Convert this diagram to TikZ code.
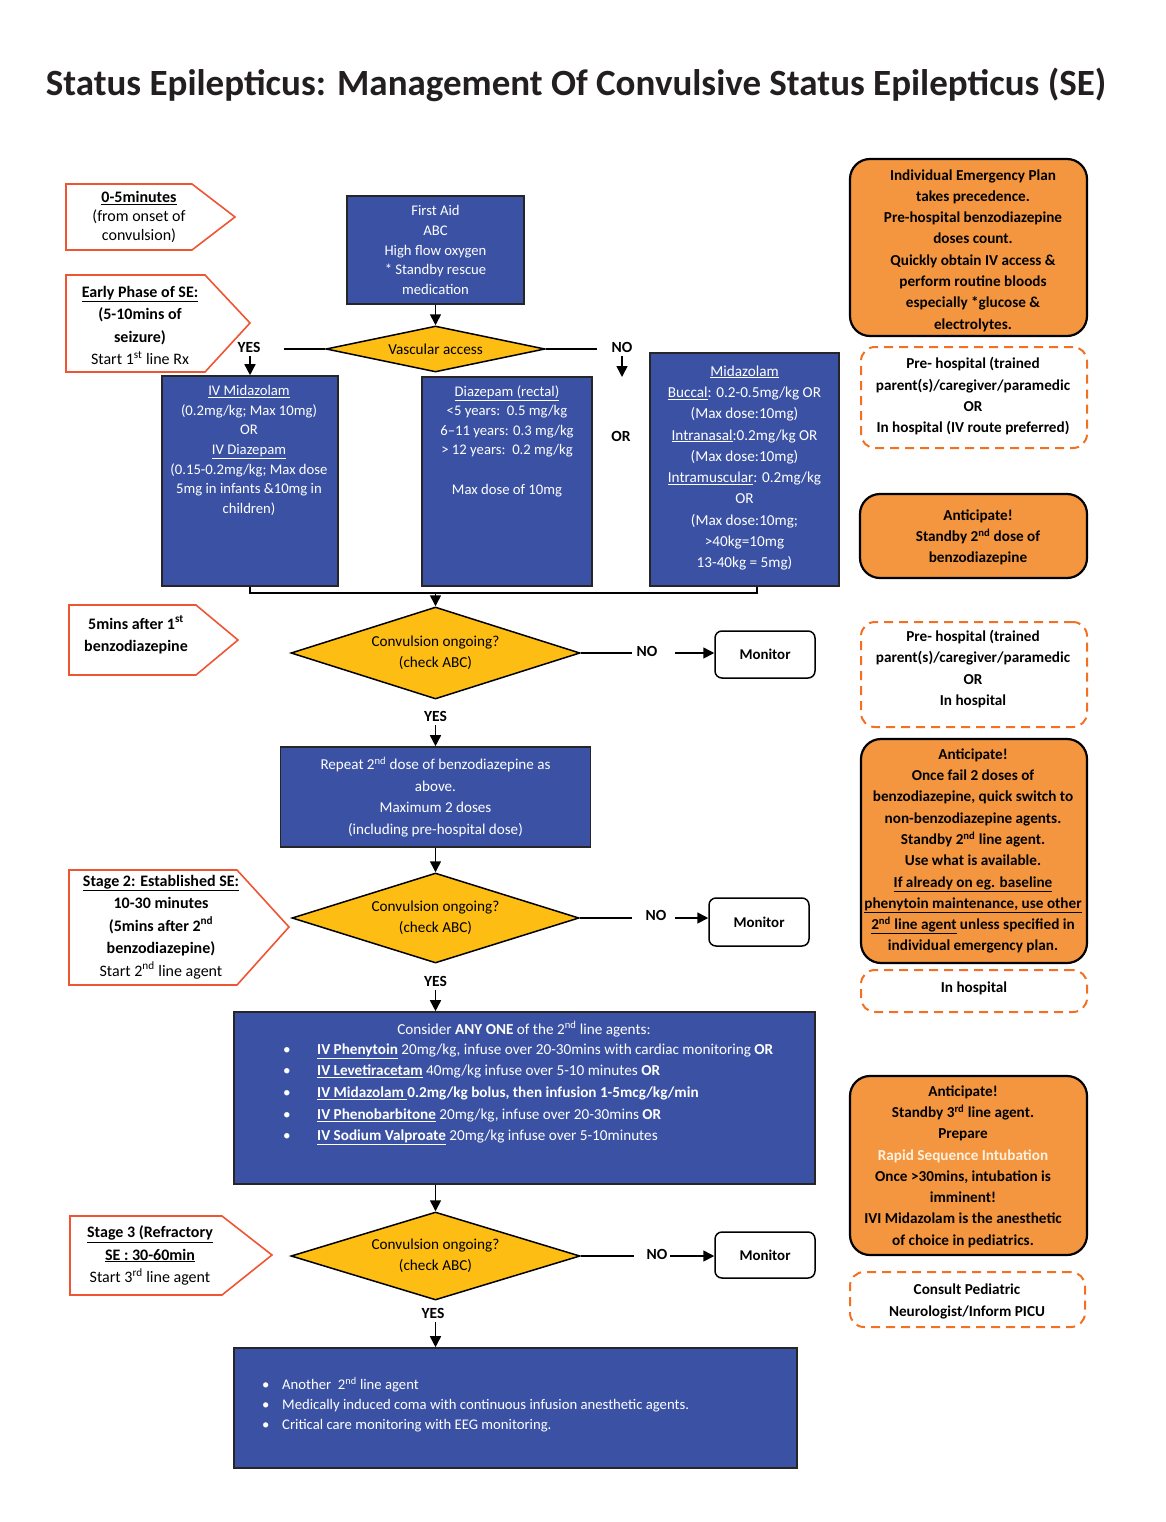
\documentclass[tikz,border=0pt]{standalone}
\usepackage{fontspec}
\setmainfont{Carlito}
\usetikzlibrary{shapes.geometric,arrows.meta}
\definecolor{blueF}{HTML}{3B52A4}
\definecolor{orangeF}{HTML}{F4963F}
\definecolor{yellowD}{HTML}{FDBD13}
\definecolor{pentR}{HTML}{EF5533}
\definecolor{dashO}{HTML}{F37021}
\definecolor{lightT}{HTML}{FFF1DE}
\definecolor{titleC}{HTML}{231F20}
\newcommand\ftA{\fontsize{14.7}{19.6}\selectfont}
\newcommand\ftB{\fontsize{15.2}{21.3}\selectfont}
\newcommand\ftC{\fontsize{16}{22.4}\selectfont}
\newcommand\ftD{\fontsize{15.1}{21.7}\selectfont}
\newcommand\ftE{\fontsize{15.2}{21}\selectfont}
\begin{document}
\begin{tikzpicture}[x=1pt,y=-1pt,
  bluebox/.style={draw=black!85, line width=1.6pt, fill=blueF, inner sep=0pt, text=white, align=center},
  wtxt/.style={text=white, align=center, inner sep=0pt},
  btxt/.style={text=black, align=center, inner sep=0pt, font=\bfseries\ftC},
  dia/.style={diamond, draw=black, line width=1.5pt, fill=yellowD, inner sep=0pt, align=center, font=\ftE},
  orbox/.style={draw=black, line width=2.2pt, fill=orangeF, rounded corners=20pt, inner sep=0pt},
  dbox/.style={draw=dashO, line width=2pt, dash pattern=on 9pt off 6pt, rounded corners=14pt, inner sep=0pt},
  pent/.style={draw=pentR, line width=1.6pt, fill=white},
  mon/.style={draw=black, line width=1.5pt, rounded corners=7pt, fill=white, minimum width=100pt, font=\bfseries\fontsize{14.9}{17}\selectfont},
  ln/.style={line width=1.6pt},
  arr/.style={line width=1.6pt, -{Triangle[length=11pt,width=11pt]}},
  lbl/.style={inner sep=0pt, font=\bfseries\fontsize{15.5}{17}\selectfont},
  bl/.style={anchor=west, inner sep=0pt, text=white, text height=10.5pt, text depth=3.3pt, font=\fontsize{15.2}{17}\selectfont},
  bl2/.style={bl, font=\fontsize{14.7}{17}\selectfont}
]
\useasboundingbox (0,0) rectangle (1166,1522);

% title
\node[inner sep=0pt, text=titleC, font=\bfseries\fontsize{37}{42}\selectfont] (title) at (576,85) {Status Epilepticus: Management Of Convulsive Status Epilepticus (SE)};

% stage pentagons
\draw[pent] (66,184) -- (192,184) -- (235,217) -- (192,250) -- (66,250) -- cycle;
\node[btxt, font=\fontsize{16}{19}\selectfont] (p1) at (139,217) {\textbf{\underline{0-5minutes}}\\(from onset of\\convulsion)};
\draw[pent] (66,275) -- (205,275) -- (250,323) -- (205,372) -- (66,372) -- cycle;
\node[btxt] (p2) at (140,325.5) {\underline{Early Phase of SE:}\\(5-10mins of\\seizure)\\\mdseries Start 1\textsuperscript{st} line Rx};
\draw[pent] (69,605) -- (196,605) -- (238,640) -- (196,675) -- (69,675) -- cycle;
\node[btxt] (p3) at (136,635) {5mins after 1\textsuperscript{st}\\benzodiazepine};
\draw[pent] (69,870) -- (237,870) -- (289,927) -- (237,985) -- (69,985) -- cycle;
\node[btxt] (p4) at (161,927) {\underline{Stage 2: Established SE:}\\10-30 minutes\\(5mins after 2\textsuperscript{nd}\\benzodiazepine)\\\mdseries Start 2\textsuperscript{nd} line agent};
\draw[pent] (70,1216) -- (222,1216) -- (272,1255) -- (222,1295) -- (70,1295) -- cycle;
\node[btxt] (p5) at (150,1255.5) {\underline{Stage 3 (Refractory}\\\underline{SE : 30-60min}\\\mdseries Start 3\textsuperscript{rd} line agent};

% main column
\node[bluebox, font=\ftA, minimum width=177pt, minimum height=108pt] (fa) at (435.5,250) {First Aid\\ABC\\High flow oxygen\\* Standby rescue\\medication};
\node[dia, minimum width=219pt, minimum height=46pt, aspect=4.7] (va) at (435.5,349) {Vascular access};

\node[bluebox, minimum width=176pt, minimum height=210pt] (ivm) at (250,481) {};
\node[wtxt, font=\ftA] (ivmt) at (249,450.5) {\underline{IV Midazolam}\\(0.2mg/kg; Max 10mg)\\OR\\\underline{IV Diazepam}\\(0.15-0.2mg/kg; Max dose\\5mg in infants \&10mg in\\children)};
\node[bluebox, minimum width=170pt, minimum height=209pt] (dzp) at (507,481.5) {};
\node[wtxt, font=\ftA] (dzpt) at (507,441) {\underline{Diazepam (rectal)}\\<5 years:\ \ 0.5 mg/kg\\6--11 years: 0.3 mg/kg\\> 12 years:\ \ 0.2 mg/kg\\[19.6pt]Max dose of 10mg};
\node[bluebox, minimum width=189pt, minimum height=233pt] (mdz) at (744.5,469.5) {};
\node[wtxt, font=\ftB] (mdzt) at (744.5,468) {\underline{Midazolam}\\\underline{Buccal}: 0.2-0.5mg/kg OR\\(Max dose:10mg)\\\underline{Intranasal}:0.2mg/kg OR\\(Max dose:10mg)\\\underline{Intramuscular}: 0.2mg/kg\\OR\\(Max dose:10mg;\\>40kg=10mg\\13-40kg = 5mg)};

\draw[arr] (fa) -- (va);
\coordinate (vaL) at (284,349);
\draw[ln] (va.west) -- (vaL);
\node[lbl] (yes0) at (249,347) {YES};
\coordinate (yesA) at (250,356);
\draw[arr] (yesA) -- (yesA |- ivm.north);
\coordinate (vaR) at (597,349);
\draw[ln] (va.east) -- (vaR);
\node[lbl] (no0) at (622,347) {NO};
\coordinate (noA) at (622,356);
\coordinate (noB) at (622,377);
\draw[arr] (noA) -- (noB);
\node[lbl] (or0) at (621,436) {OR};

\node[dia, minimum width=289pt, minimum height=92pt, aspect=3.14] (d1) at (435.5,653) {Convulsion ongoing?\\(check ABC)};
\coordinate (mL) at (250,593);
\coordinate (mR) at (757,593);
\draw[ln] (ivm.south) -- (mL) -- (mR) -- (mR |- mdz.south);
\draw[arr] (d1.north |- mL) -- (d1.north);

\node[mon, minimum height=47pt] (m1) at (765,654.5) {Monitor};
\coordinate (n1a) at (632,653);
\draw[ln] (d1.east) -- (n1a);
\node[lbl] (no1) at (647,651) {NO};
\coordinate (n1b) at (675,653);
\draw[arr] (n1b) -- (n1b -| m1.west);

\node[lbl] (yes1) at (435.5,716) {YES};
\node[bluebox, font=\ftD, minimum width=310pt, minimum height=100pt] (rep) at (435.5,797) {Repeat 2\textsuperscript{nd} dose of benzodiazepine as\\above.\\Maximum 2 doses\\(including pre-hospital dose)};
\draw[arr] (yes1.south) ++(0,4) -- (rep.north);

\node[dia, minimum width=287pt, minimum height=90pt, aspect=3.19] (d2) at (435.5,918) {Convulsion ongoing?\\(check ABC)};
\draw[arr] (rep) -- (d2);
\node[mon, minimum height=48pt] (m2) at (759,922) {Monitor};
\coordinate (n2a) at (632,918);
\draw[ln] (d2.east) -- (n2a);
\node[lbl] (no2) at (656,915) {NO};
\coordinate (n2b) at (675,918);
\draw[arr] (n2b) -- (n2b -| m2.west);

\node[lbl] (yes2) at (435.5,981) {YES};
\node[bluebox, minimum width=581pt, minimum height=172pt] (cons) at (524.5,1098) {};
\draw[arr] (yes2.south) ++(0,4) -- (yes2.south |- cons.north);
\node[wtxt, font=\fontsize{15.2}{17}\selectfont] (ct0) at (524,1029) {Consider \textbf{ANY ONE} of the 2\textsuperscript{nd} line agents:};
\node[bl] (cb1) at (283,1051) {•};
\node[bl] (cb2) at (283,1072) {•};
\node[bl] (cb3) at (283,1094) {•};
\node[bl] (cb4) at (283,1116) {•};
\node[bl] (cb5) at (283,1137) {•};
\node[bl] (ct1) at (317,1051) {\textbf{\underline{IV Phenytoin}} 20mg/kg, infuse over 20-30mins with cardiac monitoring \textbf{OR}};
\node[bl] (ct2) at (317,1072) {\textbf{\underline{IV Levetiracetam}} 40mg/kg infuse over 5-10 minutes \textbf{OR}};
\node[bl] (ct3) at (317,1094) {\textbf{\underline{IV Midazolam }0.2mg/kg bolus, then infusion 1-5mcg/kg/min}};
\node[bl] (ct4) at (317,1116) {\textbf{\underline{IV Phenobarbitone}} 20mg/kg, infuse over 20-30mins \textbf{OR}};
\node[bl] (ct5) at (317,1137) {\textbf{\underline{IV Sodium Valproate}} 20mg/kg infuse over 5-10minutes};

\node[dia, minimum width=289pt, minimum height=88pt, aspect=3.28] (d3) at (435.5,1256) {Convulsion ongoing?\\(check ABC)};
\draw[arr] (d3.north |- cons.south) -- (d3.north);
\node[mon, minimum height=46pt] (m3) at (765,1255) {Monitor};
\coordinate (n3a) at (634,1256);
\draw[ln] (d3.east) -- (n3a);
\node[lbl] (no3) at (657,1254) {NO};
\coordinate (n3b) at (670,1256);
\draw[arr] (n3b) -- (n3b -| m3.west);

\node[lbl] (yes3) at (433,1313) {YES};
\node[bluebox, minimum width=563pt, minimum height=120pt] (anot) at (515.5,1408) {};
\draw[arr] (d3.south |- yes3.south) ++(0,4) -- (d3.south |- anot.north);
\node[bl2] (ab1) at (262,1386) {•};
\node[bl2] (ab2) at (262,1406) {•};
\node[bl2] (ab3) at (262,1426) {•};
\node[bl2] (at1) at (282,1386) {Another\ \ 2\textsuperscript{nd} line agent};
\node[bl2] (at2) at (282,1406) {Medically induced coma with continuous infusion anesthetic agents.};
\node[bl2] (at3) at (282,1426) {Critical care monitoring with EEG monitoring.};

% right column
\node[orbox, minimum width=237pt, minimum height=177pt] (o1) at (968.5,247.5) {};
\node[btxt, font=\bfseries\ftB] (o1t) at (973,250.5) {Individual Emergency Plan\\takes precedence.\\Pre-hospital benzodiazepine\\doses count.\\Quickly obtain IV access \&\\perform routine bloods\\especially *glucose \&\\electrolytes.};
\node[dbox, minimum width=226pt, minimum height=101pt] (q1) at (974,397.5) {};
\node[btxt, font=\bfseries\ftB] (q1t) at (973,396.5) {Pre- hospital (trained\\parent(s)/caregiver/paramedic\\OR\\In hospital (IV route preferred)};
\node[orbox, minimum width=227pt, minimum height=84pt] (o2) at (973.5,536) {};
\node[btxt, font=\bfseries\ftB] (o2t) at (978,537.5) {Anticipate!\\Standby 2\textsuperscript{nd} dose of\\benzodiazepine};
\node[dbox, minimum width=226pt, minimum height=105pt] (q2) at (974,674.5) {};
\node[btxt, font=\bfseries\ftB] (q2t) at (973,669) {Pre- hospital (trained\\parent(s)/caregiver/paramedic\\OR\\In hospital};
\node[orbox, minimum width=226pt, minimum height=224pt] (o3) at (974,851) {};
\node[btxt, font=\bfseries\ftB] (o3t) at (973,851) {Anticipate!\\Once fail 2 doses of\\benzodiazepine, quick switch to\\non-benzodiazepine agents.\\Standby 2\textsuperscript{nd} line agent.\\Use what is available.\\\underline{If already on eg. baseline}\\\underline{phenytoin maintenance, use other}\\\underline{2\textsuperscript{nd} line agent} unless specified in\\individual emergency plan.};
\node[dbox, minimum width=226pt, minimum height=42pt] (q3) at (974,991) {};
\node[btxt, font=\bfseries\ftB] (q3t) at (974,988) {In hospital};
\node[orbox, minimum width=237pt, minimum height=179pt] (o4) at (968.5,1165.5) {};
\node[btxt, font=\bfseries\ftB] (o4t) at (963,1166.5) {Anticipate!\\Standby 3\textsuperscript{rd} line agent.\\Prepare\\{\color{lightT}Rapid Sequence Intubation}\\Once >30mins, intubation is\\imminent!\\IVI Midazolam is the anesthetic\\of choice in pediatrics.};
\node[dbox, minimum width=235pt, minimum height=55pt] (q4) at (967.5,1299.5) {};
\node[btxt, font=\bfseries\ftB] (q4t) at (967,1301.5) {Consult Pediatric\\Neurologist/Inform PICU};
\end{tikzpicture}
\end{document}
